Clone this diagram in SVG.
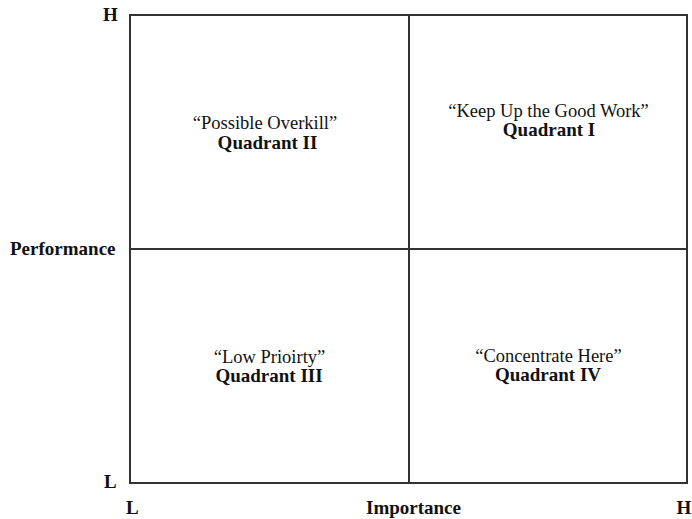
<svg xmlns="http://www.w3.org/2000/svg" width="692" height="519" viewBox="0 0 692 519">
  <style>
    .grid { fill: none; stroke: #333; stroke-width: 2; }
    .lbl { font-family: "Liberation Serif", "Times New Roman", serif; fill: #111; }
    .reg { font-size: 18.5px; font-weight: normal; }
    .bold { font-size: 19px; font-weight: bold; }
    .mid { text-anchor: middle; }
  </style>
  <rect width="692" height="519" fill="#fff"/>

  <!-- quadrant frame and dividing lines -->
  <g id="grid-lines">
    <rect class="grid" x="130" y="15" width="557" height="468"/>
    <line class="grid" x1="409" y1="15" x2="409" y2="483"/>
    <line class="grid" x1="130" y1="249" x2="687" y2="249"/>
  </g>

  <!-- axis labels -->
  <g id="axis-performance">
    <text class="lbl bold" x="103" y="21">H</text>
    <text class="lbl bold" x="10" y="255">Performance</text>
    <text class="lbl bold" x="104" y="488">L</text>
  </g>
  <g id="axis-importance">
    <text class="lbl bold" x="126" y="514">L</text>
    <text class="lbl bold mid" x="413.5" y="514">Importance</text>
    <text class="lbl bold" x="676.5" y="514">H</text>
  </g>

  <!-- quadrants -->
  <g id="quadrant-1">
    <text class="lbl reg mid" x="548.5" y="117">“Keep Up the Good Work”</text>
    <text class="lbl bold mid" x="549" y="136">Quadrant I</text>
  </g>
  <g id="quadrant-2">
    <text class="lbl reg mid" x="265" y="129">“Possible Overkill”</text>
    <text class="lbl bold mid" x="267.5" y="149">Quadrant II</text>
  </g>
  <g id="quadrant-3">
    <text class="lbl reg mid" x="269.5" y="363">“Low Prioirty”</text>
    <text class="lbl bold mid" x="269" y="382">Quadrant III</text>
  </g>
  <g id="quadrant-4">
    <text class="lbl reg mid" x="548.5" y="362">“Concentrate Here”</text>
    <text class="lbl bold mid" x="548" y="381">Quadrant IV</text>
  </g>
</svg>
